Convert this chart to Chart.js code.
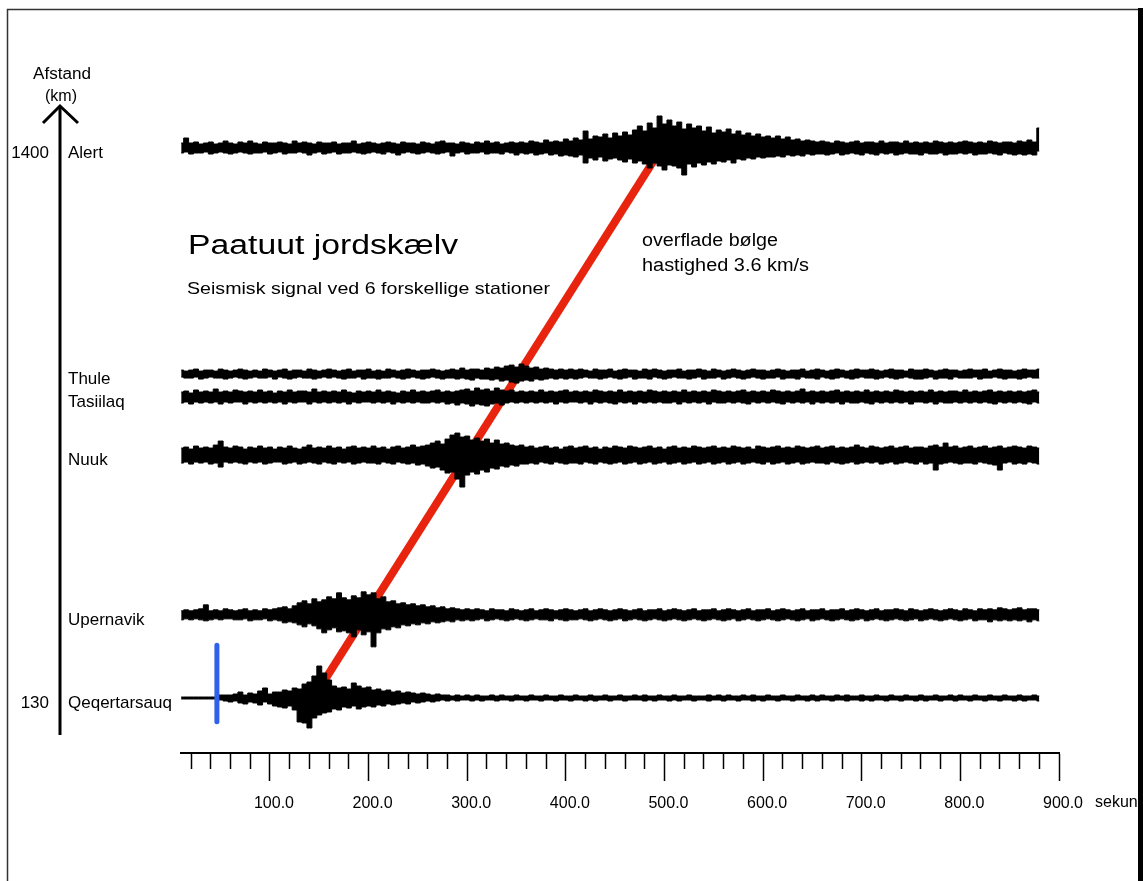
<!DOCTYPE html>
<html><head><meta charset="utf-8">
<script src="https://cdn.jsdelivr.net/npm/chart.js@4.4.1/dist/chart.umd.min.js"></script>
<style>html,body{margin:0;padding:0;background:#fff}#wrap{position:relative;width:1143px;height:881px}</style>
</head><body><div id="wrap"><canvas id="c"></canvas></div>
<script>
// ---------------- data ----------------
const stations  = ['Alert','Thule','Tasiilaq','Nuuk','Upernavik','Qeqertarsauq'];
const distances = [1400, 878, 825, 691, 322, 130];        // km
const distanceTickLabels = ['1400','130'];
const distanceTickValues = [1400, 130];
const xTickLabels = ['100.0','200.0','300.0','400.0','500.0','600.0','700.0','800.0','900.0'];
const timeStart = 10, timeStep = 5, sampleCount = 175;     // sampling grid of envelopes (s)

// envelope amplitudes (up = above baseline, dn = below)
const alertUp = [5,10,5,6,4,5,6,4,5,7, 5,4,6,5,7,5,4,6,5,5, 6,5,4,7,5,6,5,4,6,5, 5,6,4,5,5,7,4,5,6,5,
 4,5,6,5,4,6,5,5,4,6, 5,4,6,7,5,5,4,6,5,4, 6,5,7,5,6,4,5,6,5,6, 5,7,6,5,8,6,7,6,9,7,
 10,8,17,9,12,11,14,10,15,12, 16,13,18,22,17,25,20,32,24,28, 22,26,19,24,20,22,17,21,15,18,
 16,19,14,17,13,15,12,14,11,12, 10,12,9,11,8,9,7,8,7,6, 7,6,5,7,6,5,6,7,5,6, 6,5,7,5,6,6,5,7,5,6,
 5,6,5,7,6,5,6,5,6,7, 6,5,6,5,7,6,5,6,6,5, 7,6,8,6,20];
const alertDn = [5,4,6,5,5,4,6,5,4,5, 6,5,4,5,6,5,5,4,6,5, 4,6,5,5,4,5,7,5,4,6, 5,4,6,5,5,4,5,6,5,4,
 5,6,4,5,7,5,4,5,6,5, 4,5,6,5,4,8,5,4,6,5, 5,4,6,5,5,6,4,5,7,5, 6,5,7,6,5,7,6,8,7,8,
 9,7,15,10,12,9,13,11,10,12, 14,11,15,13,16,20,15,18,22,17, 18,20,27,16,19,15,17,14,16,13,
 14,12,15,11,12,10,11,9,10,9, 9,8,9,7,8,7,8,6,7,6, 6,7,6,5,7,6,5,6,7,5, 6,7,5,6,5,7,6,5,6,6,
 7,5,6,6,5,7,6,6,5,6, 5,7,6,6,5,6,7,5,6,7, 6,7,6,7,3];

const thuleUp = [4,3,4,5,3,4,4,3,5,4, 3,4,5,4,3,4,3,5,4,3, 4,5,3,4,4,3,5,4,3,4, 5,4,3,4,5,3,4,4,5,3,
 4,3,5,4,3,4,5,4,3,4, 4,5,4,3,4,5,4,6,4,5, 5,4,6,5,7,6,8,9,7,10, 8,6,7,5,6,5,4,5,4,5,
 4,5,4,3,5,4,4,5,3,4, 5,4,4,3,5,4,5,4,3,4, 4,5,3,4,4,5,4,3,5,4, 3,4,5,4,3,4,5,4,4,3,
 4,5,4,3,4,4,5,3,4,5, 4,3,4,5,4,3,4,5,4,4, 5,4,3,4,5,4,4,3,5,4, 4,5,4,3,4,5,4,4,3,4,
 5,4,4,5,3,4,5,4,4,3, 4,5,4,4,5];
const thuleDn = [3,4,4,3,5,4,3,4,4,5, 4,3,4,5,4,3,4,4,3,5, 3,4,5,4,3,4,4,5,4,3, 4,3,4,5,4,4,3,5,4,4,
 5,4,4,3,4,5,4,3,4,5, 4,3,4,5,4,4,5,4,5,6, 4,5,5,6,5,7,6,8,9,7, 6,7,5,6,5,4,5,4,5,4,
 5,4,3,4,4,5,4,3,4,5, 4,3,5,4,4,5,3,4,5,4, 3,4,4,5,4,3,5,4,4,3, 5,4,3,4,5,4,3,4,5,4,
 4,3,5,4,4,5,3,4,4,5, 3,4,5,4,3,4,5,4,3,4, 4,5,4,3,4,5,4,3,4,5, 5,4,3,5,4,4,5,3,4,4,
 4,3,5,4,4,3,4,5,4,4, 5,4,3,4,4];

const tasiilaqUp = [5,6,4,7,5,6,5,8,5,6, 5,7,6,5,6,5,7,5,6,4, 6,5,7,5,6,6,5,8,5,6, 5,6,5,7,5,4,6,5,6,5,
 7,5,6,5,4,6,5,7,5,6, 5,6,7,5,6,5,6,7,8,6, 9,7,8,6,9,7,6,7,5,6, 5,6,5,7,5,6,5,6,7,5,
 6,5,6,5,7,6,5,6,5,7, 5,6,5,6,5,7,6,5,6,5, 6,5,7,5,6,5,6,5,7,6, 5,6,5,6,7,5,6,5,6,5,
 7,6,5,6,5,6,8,5,6,5, 6,5,6,7,5,6,5,6,5,7, 5,6,5,6,5,7,6,5,6,5, 6,5,7,5,6,5,6,6,5,7,
 5,6,5,6,7,5,6,5,6,5, 6,5,6,7,5];
const tasiilaqDn = [6,5,7,5,6,5,6,5,7,5, 6,5,5,7,5,6,5,6,5,6, 5,7,5,6,5,5,7,5,6,5, 6,5,6,5,7,5,6,5,5,6,
 5,6,5,7,5,6,5,6,5,6, 6,5,6,5,7,6,8,6,7,9, 7,8,9,7,6,8,6,5,6,5, 6,5,6,5,6,5,7,5,6,5,
 5,6,5,7,5,6,5,6,7,5, 6,5,7,5,6,5,6,5,6,6, 5,7,5,6,5,6,5,7,5,6, 6,5,6,5,6,7,5,6,5,6,
 5,6,7,5,6,5,6,5,7,5, 6,5,6,5,7,5,6,6,5,6, 7,5,6,5,6,5,6,5,7,5, 5,6,5,7,5,6,6,5,6,5,
 6,5,6,5,6,7,5,6,5,6, 5,6,7,5,6];

const nuukUp = [7,8,6,9,7,8,7,10,14,8, 7,9,8,6,8,7,9,7,8,6, 8,7,9,7,6,8,10,7,8,7, 9,7,8,6,8,9,7,8,7,9,
 7,8,6,8,9,7,8,10,8,9, 10,12,14,11,16,20,22,18,19,15, 17,14,16,12,15,11,12,10,9,10, 8,9,7,8,9,7,8,6,8,9,
 7,8,9,7,8,6,8,7,9,8, 7,9,8,7,8,9,7,8,6,8, 9,7,8,7,9,8,7,8,9,7, 8,7,9,8,7,8,6,9,8,7,
 8,9,7,8,7,9,8,7,8,9, 7,8,9,7,8,7,8,10,8,7, 9,8,7,8,9,7,8,9,7,8, 8,7,9,10,8,12,8,9,7,8,
 9,7,8,9,7,8,9,7,8,9, 8,7,9,8,7];
const nuukDn = [8,7,9,7,8,7,9,8,12,7, 8,7,8,9,7,8,7,9,8,7, 7,9,8,7,9,8,7,8,9,7, 8,9,7,8,7,9,8,7,8,8,
 9,7,8,9,7,8,9,8,10,9, 11,13,12,15,18,17,24,32,20,17, 19,15,17,13,14,11,12,10,11,9, 9,8,9,7,8,9,7,8,9,8,
 8,9,7,8,9,7,8,9,8,7, 9,8,7,9,8,7,9,8,7,9, 8,7,9,8,7,9,8,7,9,8, 7,9,8,7,9,8,7,8,9,7,
 9,8,7,9,8,7,9,8,7,8, 8,9,7,8,9,8,7,9,8,7, 8,7,9,8,7,9,8,7,8,9, 7,9,8,15,9,8,7,8,9,8,
 8,9,7,8,9,10,15,8,7,9, 8,9,7,8,9];

const upernavikUp = [4,5,4,5,6,10,4,5,4,6, 5,4,5,6,4,5,4,6,5,6, 7,8,6,9,12,14,11,16,13,15, 18,16,22,17,15,19,17,23,20,22,
 16,18,13,14,11,12,10,11,9,10, 8,9,7,8,6,7,6,5,6,5, 6,5,4,6,5,5,4,6,5,4, 5,6,4,5,6,5,4,5,6,5,
 4,5,6,4,5,6,5,4,5,6, 5,4,5,6,4,5,5,6,4,5, 6,5,4,5,6,4,5,5,6,4, 5,6,5,4,5,6,4,5,5,6,
 4,5,6,5,4,5,6,4,5,5, 6,4,5,5,6,4,5,6,5,4, 5,6,4,5,5,6,5,4,6,5, 4,5,6,5,4,5,6,5,4,6,
 5,4,6,5,6,5,7,6,5,6, 7,5,6,6,5];
const upernavikDn = [5,4,5,4,5,6,5,4,5,4, 4,5,5,4,6,5,5,4,6,5, 6,8,7,8,10,12,9,11,14,18, 15,13,17,16,18,22,15,20,17,32,
 18,14,15,12,13,10,11,9,10,8, 9,7,8,7,6,7,5,6,5,6, 5,4,6,5,4,5,6,5,4,5, 6,5,4,5,5,6,4,5,6,5,
 5,4,5,6,5,4,5,6,5,4, 6,5,4,5,6,5,4,5,6,5, 4,5,6,5,4,5,6,5,4,5, 6,5,4,6,5,4,5,6,5,4,
 5,6,5,4,5,6,5,4,6,5, 4,5,6,5,4,5,6,5,4,6, 5,4,5,6,5,4,5,6,5,4, 6,5,4,5,6,5,4,5,6,5,
 4,6,5,5,7,5,6,5,6,5, 6,5,7,5,6];

const qeqUp = [1,1,1,1,1,1,1,1,3,3, 3,4,6,3,5,4,7,10,4,6, 6,8,7,10,9,14,16,22,32,25, 18,12,10,11,9,15,12,10,11,8,
 9,7,8,6,7,5,6,5,4,5, 4,3,4,3,3,2,3,2,3,2, 3,2,2,3,2,3,2,2,3,2, 2,3,2,2,3,2,2,3,2,2,
 3,2,2,3,2,2,3,2,2,3, 2,2,3,2,3,2,2,3,2,2, 3,2,2,3,2,2,2,3,2,3, 2,3,2,2,3,2,3,2,2,3,
 2,2,3,2,2,3,2,2,3,2, 3,2,2,3,2,3,2,2,3,2, 2,3,2,2,3,2,2,3,2,2, 3,2,2,3,2,2,3,2,3,2,
 2,3,2,2,3,2,2,3,2,2, 3,2,2,3,2];
const qeqDn = [1,1,1,1,1,1,1,1,2,3, 4,3,5,6,4,5,7,4,6,8, 9,10,8,12,24,25,30,20,17,15, 14,11,12,9,10,8,11,9,8,9,
 7,8,6,7,6,5,6,4,5,4, 3,4,3,2,3,2,3,2,2,3, 2,3,2,2,3,2,2,3,2,2, 3,2,2,3,2,2,3,2,2,3,
 2,2,3,2,3,2,2,3,2,2, 3,2,2,2,3,2,3,2,2,3, 2,3,2,2,3,2,2,3,2,2, 3,2,2,3,2,2,3,2,3,2,
 2,3,2,2,3,2,2,3,2,3, 2,2,3,2,2,3,2,2,3,2, 3,2,2,3,2,2,3,2,2,3, 2,3,2,2,3,2,2,3,2,2,
 3,2,2,3,2,2,3,2,2,3, 2,3,2,2,3];

const envelopesUp = [alertUp, thuleUp, tasiilaqUp, nuukUp, upernavikUp, qeqUp];
const envelopesDn = [alertDn, thuleDn, tasiilaqDn, nuukDn, upernavikDn, qeqDn];

// surface wave arrival line (3.6 km/s) and origin marker
const waveTimes = [153.7, 489.4];
const waveDistances = [165, 1372];
const originTime = 46.2;
const originMarkDistances = [75, 252];

// ---------------- chart ----------------
const FONT = '"Liberation Sans", Arial, Helvetica, sans-serif';
Chart.defaults.font.family = FONT;
const KM_PER_UNIT = 2.309; // trace gain: amplitude unit -> km on distance axis

const times = Array.from({length: sampleCount}, (_, i) => timeStart + i * timeStep);
const datasets = [];
stations.forEach((name, s) => {
  const d = distances[s];
  const up = envelopesUp[s], dn = envelopesDn[s];
  datasets.push({
    label: name, order: 0,
    data: times.map((t, i) => ({x: t, y: d + up[i] * KM_PER_UNIT})),
    borderColor: '#000', borderWidth: 1, pointRadius: 0, stepped: 'middle', fill: false
  });
  datasets.push({
    label: name + ' (lower)', order: 0,
    data: times.map((t, i) => ({x: t, y: d - dn[i] * KM_PER_UNIT})),
    borderColor: '#000', borderWidth: 1, pointRadius: 0, stepped: 'middle',
    fill: '-1', backgroundColor: '#000'
  });
});
datasets.push({
  label: 'overflade bølge', order: 10,
  data: waveTimes.map((t, i) => ({x: t, y: waveDistances[i]})),
  borderColor: '#e8240f', borderWidth: 8, pointRadius: 0, fill: false
});
datasets.push({
  label: 'origin', order: -1,
  data: originMarkDistances.map(v => ({x: originTime, y: v})),
  borderColor: '#2f62e8', borderWidth: 5, borderCapStyle: 'round', pointRadius: 0, fill: false
});

function drawFit(ctx, text, x, y, size, targetW, align) {
  ctx.save();
  ctx.font = size + 'px ' + FONT;
  const w = ctx.measureText(text).width;
  const sx = targetW ? targetW / w : 1;
  ctx.translate(x, y);
  ctx.scale(sx, 1);
  ctx.textAlign = align || 'left';
  ctx.textBaseline = 'middle';
  ctx.fillStyle = '#000';
  ctx.fillText(text, 0, 0);
  ctx.restore();
}

const decor = {
  id: 'decor',
  afterDraw(chart) {
    const ctx = chart.ctx;
    const ys = chart.scales.y;
    // distance axis arrow
    ctx.save();
    ctx.strokeStyle = '#000';
    ctx.lineWidth = 3;
    ctx.beginPath(); ctx.moveTo(60, 735); ctx.lineTo(60, 107); ctx.stroke();
    ctx.beginPath(); ctx.moveTo(43, 123); ctx.lineTo(60, 106); ctx.lineTo(78, 123); ctx.stroke();
    ctx.restore();
    drawFit(ctx, 'Afstand', 62, 75, 16, 58, 'center');
    drawFit(ctx, '(km)', 61, 97, 16, null, 'center');
    distanceTickValues.forEach((v, i) => {
      drawFit(ctx, distanceTickLabels[i], 49, ys.getPixelForValue(v) + 5.5, 17, null, 'right');
    });
    stations.forEach((name, s) => {
      drawFit(ctx, name, 68, ys.getPixelForValue(distances[s]) + 5.5, 17, null, 'left');
    });
    drawFit(ctx, 'Paatuut jordskælv', 188, 247, 27, 270, 'left');
    drawFit(ctx, 'Seismisk signal ved 6 forskellige stationer', 187, 289, 17, 363, 'left');
    drawFit(ctx, 'overflade bølge', 642, 241, 18, 136, 'left');
    drawFit(ctx, 'hastighed 3.6 km/s', 642, 266, 18, 167, 'left');
    drawFit(ctx, 'sekunder', 1095, 803, 16, null, 'left');
    // frame
    ctx.save();
    ctx.strokeStyle = '#333';
    ctx.lineWidth = 1.5;
    ctx.beginPath();
    ctx.moveTo(7.5, 890); ctx.lineTo(7.5, 9.5); ctx.lineTo(1140, 9.5);
    ctx.stroke();
    ctx.fillStyle = '#000';
    ctx.fillRect(1138, 8, 5, 873);
    ctx.restore();
  }
};

new Chart(document.getElementById('c'), {
  type: 'line',
  data: { datasets },
  options: {
    responsive: true, maintainAspectRatio: false, animation: false, events: [],
    layout: { padding: { left: 181, right: 84, top: 100, bottom: 60 } },
    plugins: { legend: { display: false }, tooltip: { enabled: false }, title: { display: false } },
    scales: {
      x: {
        type: 'linear', min: 9.8, max: 900,
        afterFit(scale) { scale.height = 68; },
        border: { display: true, color: '#000', width: 2 },
        grid: {
          drawOnChartArea: false, drawTicks: true, tickLength: 28, tickWidth: 1.5, tickColor: '#000',
          tickBorderDash: (c) => (c.tick && c.tick.value % 100 === 0) ? [] : [15, 200]
        },
        ticks: {
          stepSize: 20, includeBounds: false, autoSkip: false, maxRotation: 0, minRotation: 0,
          padding: 13, labelOffset: 4, color: '#000', font: { size: 16 },
          callback: (v) => (v % 100 === 0) ? xTickLabels[v / 100 - 1] : ''
        }
      },
      y: { type: 'linear', display: false, min: 3.0, max: 1510.84 }
    }
  },
  plugins: [decor]
});
</script></body></html>
